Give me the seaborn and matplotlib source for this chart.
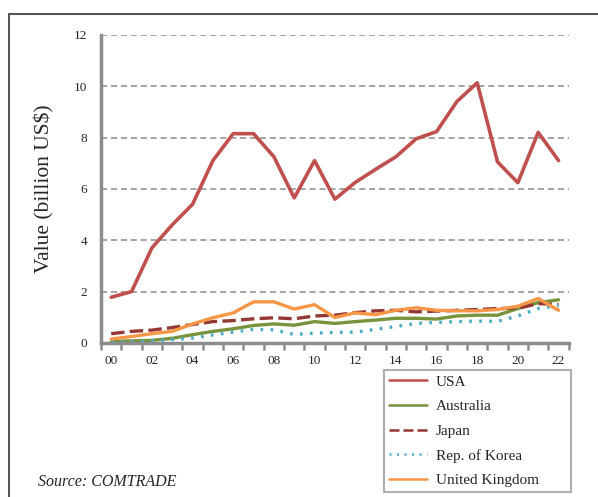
import numpy as np
import pandas as pd
import seaborn as sns
import matplotlib.pyplot as plt
from matplotlib.lines import Line2D
from matplotlib.ticker import MultipleLocator

# Values (billion US$)
years = ['00', '01', '02', '03', '04', '05', '06', '07', '08', '09', '10', '11',
         '12', '13', '14', '15', '16', '17', '18', '19', '20', '21', '22']
usa = [1.78, 2.0, 3.7, 4.6, 5.4, 7.1, 8.15, 8.15, 7.25, 5.65, 7.1, 5.6,
       6.25, 6.76, 7.25, 7.95, 8.23, 9.4, 10.13, 7.05, 6.24, 8.2, 7.1]
australia = [0.05, 0.08, 0.1, 0.18, 0.32, 0.45, 0.55, 0.68, 0.74, 0.69, 0.83, 0.76,
             0.83, 0.89, 0.96, 0.96, 0.93, 1.05, 1.08, 1.08, 1.34, 1.57, 1.68]
japan = [0.36, 0.45, 0.5, 0.6, 0.72, 0.83, 0.87, 0.94, 0.98, 0.94, 1.05, 1.08,
         1.18, 1.25, 1.27, 1.21, 1.24, 1.27, 1.3, 1.34, 1.35, 1.53, 1.5]
korea = [0.04, 0.05, 0.08, 0.13, 0.19, 0.31, 0.42, 0.53, 0.51, 0.33, 0.38, 0.41,
         0.42, 0.53, 0.64, 0.76, 0.8, 0.83, 0.85, 0.84, 1.05, 1.34, 1.45]
uk = [0.15, 0.25, 0.36, 0.45, 0.74, 0.98, 1.17, 1.6, 1.6, 1.32, 1.49, 0.99,
      1.17, 1.1, 1.27, 1.37, 1.27, 1.25, 1.25, 1.3, 1.43, 1.73, 1.27]

series = ['USA', 'Australia', 'Japan', 'Rep. of Korea', 'United Kingdom']
colors = ['#C0504D', '#77933C', '#953735', '#4BACC6', '#F79646']
styles = ['-', '-', (0, (4, 1.6)), (0, (0.8, 2.2)), '-']
widths = [2.6, 2.4, 2.4, 2.4, 2.4]

df = pd.DataFrame({'pos': np.arange(len(years)), 'USA': usa, 'Australia': australia,
                   'Japan': japan, 'Rep. of Korea': korea, 'United Kingdom': uk})

sns.set_style('white')
plt.rcParams['font.family'] = ['Liberation Serif', 'DejaVu Serif']

fig = plt.figure(figsize=(5.98, 4.97), dpi=100)
ax = fig.add_axes([0.169, 0.310, 0.782, 0.620])

for name, c, ls, lw in zip(series, colors, styles, widths):
    sns.lineplot(data=df, x='pos', y=name, ax=ax, color=c, lw=lw,
                 linestyle=ls, legend=False)

ax.set_xlim(-0.5, len(years) - 0.5)
ax.set_ylim(0, 12)
ax.yaxis.set_major_locator(MultipleLocator(2))
ax.set_xticks(np.arange(0, len(years), 2))
ax.set_xticklabels(years[::2])
ax.set_xticks(np.arange(-0.5, len(years), 1), minor=True)
ax.tick_params(axis='x', which='major', bottom=False, length=0, pad=9,
               labelsize=9.5)
ax.tick_params(axis='x', which='minor', bottom=True, length=5, width=1.8,
               color='#8c8c8c', direction='out')
ax.tick_params(axis='y', length=0, pad=10, labelsize=9.5)
ax.grid(axis='y', color='#8c8c8c', ls=(0, (4, 2.5)), lw=1.1)
ax.grid(axis='x', visible=False)
for s in ['top', 'right']:
    ax.spines[s].set_visible(False)
for s in ['left', 'bottom']:
    ax.spines[s].set_color('#8c8c8c')
    ax.spines[s].set_linewidth(2.5)
ax.set_xlabel('')
ax.set_ylabel('Value (billion US$)', fontsize=15.5, labelpad=14)

handles = [Line2D([], [], color=c, lw=1.8, ls=ls) for c, ls in zip(colors, styles)]
leg = fig.legend(handles, series, loc='lower left',
                 bbox_to_anchor=(384 / 598, 5 / 497, 187 / 598, 116 / 497),
                 mode='expand', fontsize=11, frameon=True, fancybox=False,
                 handlelength=2.5, handletextpad=0.6, labelspacing=0.72,
                 borderpad=0.3, borderaxespad=0)
leg.get_frame().set_edgecolor('#9a9a9a')
leg.get_frame().set_linewidth(1.5)

fig.text(38 / 598, 1 - 482 / 497, 'Source: COMTRADE', fontsize=11.5,
         style='italic', va='center')

# outer frame (left and top edges)
fig.add_artist(Line2D([9 / 598, 9 / 598], [0, 1 - 14 / 497], color='#333333',
                      lw=1.2, transform=fig.transFigure))
fig.add_artist(Line2D([9 / 598, 1], [1 - 14 / 497, 1 - 14 / 497], color='#555555',
                      lw=1.5, transform=fig.transFigure))

fig.savefig('out.png', dpi=100)
